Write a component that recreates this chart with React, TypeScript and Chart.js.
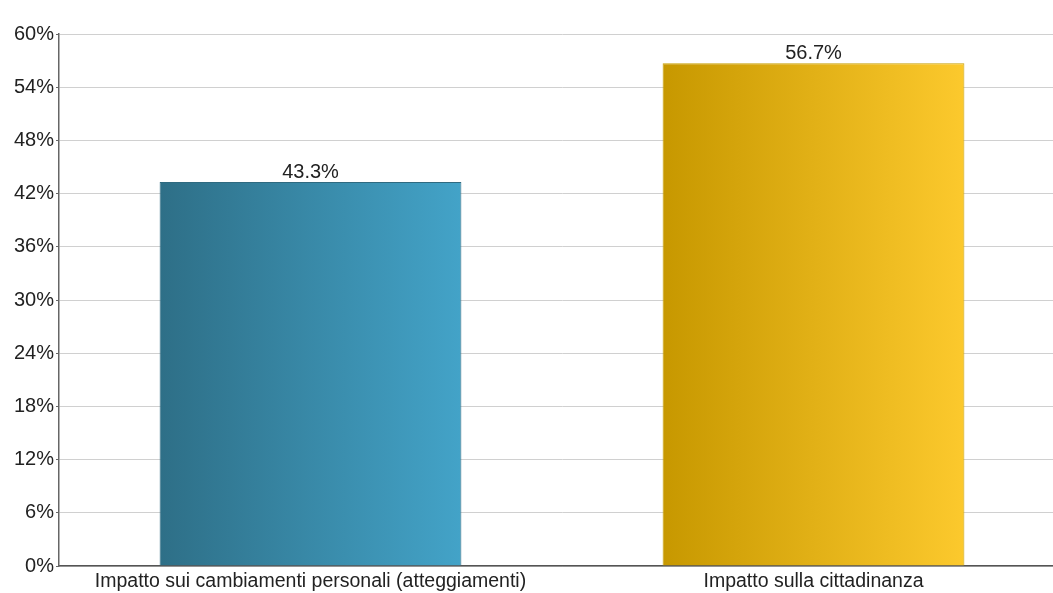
import React, { useEffect, useRef } from "react";
import { Chart, registerables } from "chart.js";

Chart.register(...registerables);

const categories = [
  "Impatto sui cambiamenti personali (atteggiamenti)",
  "Impatto sulla cittadinanza",
];
const values = [43.3, 56.7];
const gradientStops = [
  ["#2e6f87", "#43a3c8"],
  ["#c79800", "#fcc92d"],
];
const borderColors = ["#2f6a80", "#c9a000"];
const BAR_PCT = 0.6;
const FONT = '"Liberation Sans", Arial, sans-serif';

export default function App() {
  const ref = useRef<HTMLCanvasElement | null>(null);
  useEffect(() => {
    document.body.style.margin = "0";
    const canvas = ref.current!;
    const labelPlugin = {
      id: "valueLabels",
      afterDatasetsDraw(chart: any) {
        const ctx = chart.ctx;
        const meta = chart.getDatasetMeta(0);
        ctx.save();
        ctx.font = "20px " + FONT;
        ctx.fillStyle = "#222";
        ctx.textAlign = "center";
        ctx.textBaseline = "bottom";
        meta.data.forEach((bar: any, i: number) => {
          ctx.fillText(values[i].toFixed(1) + "%", bar.x, bar.y);
        });
        ctx.restore();
      },
    };
    const chart = new Chart(canvas, {
      type: "bar",
      data: {
        labels: categories,
        datasets: [
          {
            data: values,
            backgroundColor: (c: any) => {
              const ch = c.chart;
              const xs = ch.scales && ch.scales.x;
              const i = c.dataIndex ?? 0;
              if (!ch.chartArea || !xs || xs.width === 0) return gradientStops[i][1];
              const cx = xs.getPixelForValue(i);
              const half = ((xs.width / categories.length) * BAR_PCT) / 2;
              const g = ch.ctx.createLinearGradient(cx - half, 0, cx + half, 0);
              g.addColorStop(0, gradientStops[i][0]);
              g.addColorStop(1, gradientStops[i][1]);
              return g;
            },
            borderColor: borderColors,
            borderWidth: 1,
            borderSkipped: "bottom",
            barPercentage: BAR_PCT,
            categoryPercentage: 1,
          },
        ],
      },
      options: {
        animation: false,
        responsive: false,
        layout: { padding: { top: 34, right: 0, left: 0, bottom: 0 } },
        plugins: { legend: { display: false }, tooltip: { enabled: false } },
        scales: {
          x: {
            grid: { display: false, drawTicks: false },
            border: { display: true, color: "#555", width: 1.5 },
            ticks: {
              color: "#222",
              font: { family: FONT, size: 19.5 },
              padding: 4,
              maxRotation: 0,
              autoSkip: false,
            },
            afterFit: (s: any) => {
              s.height = 27;
            },
          },
          y: {
            min: 0,
            max: 60,
            ticks: {
              stepSize: 6,
              color: "#222",
              font: { family: FONT, size: 20 },
              padding: 2,
              callback: (v: any) => v + "%",
            },
            grid: { color: "#d0d0d0", lineWidth: 1, tickLength: 3, tickColor: "#666" },
            border: { display: true, color: "#666", width: 1.5 },
            afterFit: (s: any) => {
              s.width = 59;
            },
          },
        },
      },
      plugins: [labelPlugin],
    });
    return () => chart.destroy();
  }, []);
  return (
    <div style={{ width: 1053, height: 593, overflow: "hidden" }}>
      <canvas ref={ref} width={1065} height={593} style={{ display: "block" }} />
    </div>
  );
}
